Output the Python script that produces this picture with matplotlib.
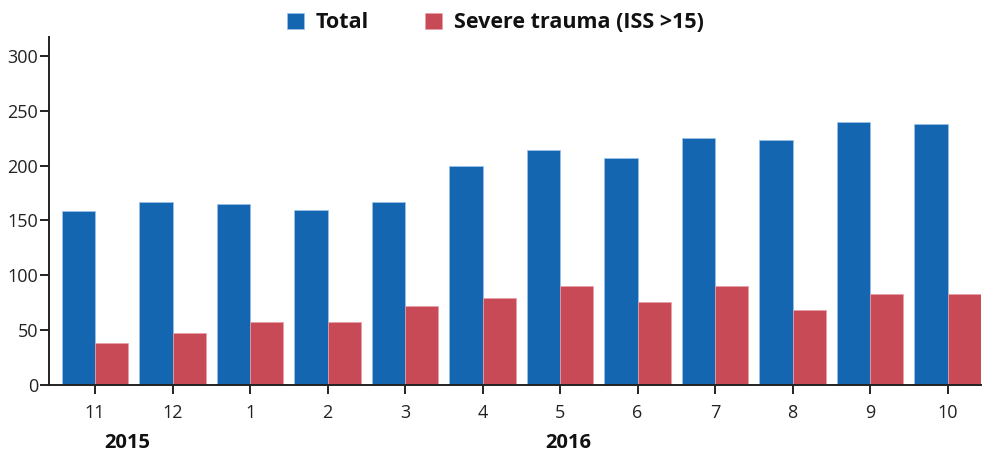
import matplotlib
matplotlib.use("Agg")
import matplotlib.pyplot as plt
import matplotlib.transforms as mtransforms
from matplotlib.patches import Patch
import numpy as np

months = ["11", "12", "1", "2", "3", "4", "5", "6", "7", "8", "9", "10"]
total = [159, 167, 165, 160, 167, 200, 214, 207, 225, 223, 240, 238]
severe = [38, 47, 57, 57, 72, 79, 90, 76, 90, 68, 83, 83]
years = ["2015", "2016"]
year_pos = [0.41, 6.1]
series_names = ["Total", "Severe trauma (ISS >15)"]

plt.rcParams['font.family'] = ['Open Sans', 'DejaVu Sans']

blue = "#1466b0"
red = "#c84a56"

fig = plt.figure(figsize=(10.08, 4.54), dpi=100)
ax = fig.add_axes([49.3/1008, 1-385/454, (981-49.3)/1008, (385-37.3)/454])

x = np.arange(len(months))
w = 0.43
ax.bar(x - w/2, total, width=w, color=blue, edgecolor="#9cc4ea", linewidth=0.5)
ax.bar(x + w/2, severe, width=w, color=red, edgecolor="#e8a0a6", linewidth=0.5)

ax.set_xlim(-0.59, 11.43)
ax.set_ylim(0, 317)
ax.set_yticks([0, 50, 100, 150, 200, 250, 300])
ax.set_xticks(x)
ax.set_xticklabels(months)
ax.tick_params(axis='both', labelsize=13, length=6.5, width=1.4, color="#222222", labelcolor="#222222")
ax.tick_params(axis='x', pad=7)
ax.tick_params(axis='y', pad=1.5)
for s in ["top", "right"]:
    ax.spines[s].set_visible(False)
for s in ["left", "bottom"]:
    ax.spines[s].set_linewidth(1.4)
    ax.spines[s].set_color("#222222")

trans = mtransforms.blended_transform_factory(ax.transData, fig.transFigure)
for yl, xp in zip(years, year_pos):
    ax.text(xp, 1 - 448/454, yl, transform=trans, ha='center', va='baseline',
            fontsize=14.5, fontweight='bold', color="#111111")

handles = [Patch(facecolor=blue, edgecolor="#9cc4ea", linewidth=0.5),
           Patch(facecolor=red, edgecolor="#e8a0a6", linewidth=0.5)]
leg = fig.legend(handles, series_names, loc='center', bbox_to_anchor=(495.5/1008, 1-23/454),
                 ncol=2, frameon=False, handlelength=0.8, handleheight=0.8,
                 handletextpad=0.55, columnspacing=2.6,
                 prop={'size': 15.5, 'weight': 'bold'})
for t in leg.get_texts():
    t.set_color("#111111")

fig.savefig("out.png", dpi=100)
